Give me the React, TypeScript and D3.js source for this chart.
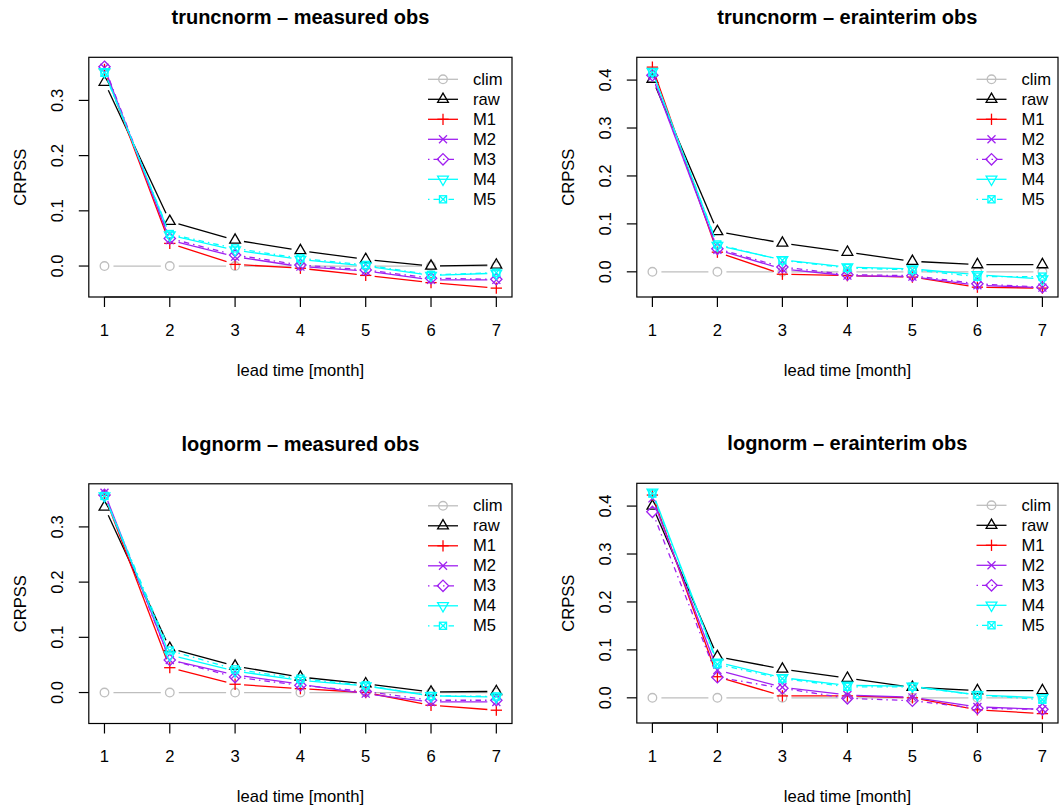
import React from "react";
import * as d3 from "d3";

// ---------- data ----------
const leadTimes = [1, 2, 3, 4, 5, 6, 7];
const xTickLabels = ["1", "2", "3", "4", "5", "6", "7"];
const climValues = [0, 0, 0, 0, 0, 0, 0];

// truncnorm – measured obs
const tmRaw = [0.333, 0.081, 0.047, 0.028, 0.012, 0.0, 0.002];
const tmM1 = [0.356, 0.041, 0.003, -0.004, -0.017, -0.03, -0.04];
const tmM2 = [0.359, 0.047, 0.017, -0.001, -0.009, -0.025, -0.025];
const tmM3 = [0.361, 0.05, 0.02, 0.002, -0.007, -0.022, -0.024];
const tmM4 = [0.352, 0.056, 0.029, 0.012, 0.0, -0.017, -0.013];
const tmM5 = [0.35, 0.058, 0.032, 0.014, 0.002, -0.016, -0.012];

// truncnorm – erainterim obs
const teRaw = [0.402, 0.084, 0.06, 0.041, 0.022, 0.015, 0.015];
const teM1 = [0.427, 0.041, -0.005, -0.008, -0.011, -0.032, -0.034];
const teM2 = [0.408, 0.046, 0.006, -0.008, -0.01, -0.028, -0.033];
const teM3 = [0.41, 0.048, 0.01, -0.006, -0.008, -0.025, -0.032];
const teM4 = [0.418, 0.055, 0.025, 0.01, 0.006, -0.006, -0.015];
const teM5 = [0.416, 0.057, 0.024, 0.008, 0.004, -0.01, -0.01];

// lognorm – measured obs
const lmRaw = [0.336, 0.08, 0.048, 0.028, 0.016, 0.001, 0.002];
const lmM1 = [0.357, 0.045, 0.015, 0.007, 0.0, -0.023, -0.032];
const lmM2 = [0.362, 0.059, 0.032, 0.015, -0.002, -0.017, -0.017];
const lmM3 = [0.358, 0.059, 0.028, 0.013, 0.002, -0.014, -0.014];
const lmM4 = [0.356, 0.068, 0.039, 0.022, 0.012, -0.006, -0.008];
const lmM5 = [0.356, 0.076, 0.042, 0.025, 0.013, -0.006, -0.007];

// lognorm – erainterim obs
const leRaw = [0.4, 0.086, 0.06, 0.041, 0.022, 0.015, 0.015];
const leM1 = [0.423, 0.044, 0.004, 0.004, 0.0, -0.025, -0.033];
const leM2 = [0.416, 0.058, 0.022, 0.006, 0.001, -0.019, -0.024];
const leM3 = [0.388, 0.043, 0.02, -0.001, -0.006, -0.022, -0.024];
const leM4 = [0.429, 0.074, 0.042, 0.026, 0.024, 0.006, 0.0];
const leM5 = [0.426, 0.07, 0.04, 0.023, 0.023, 0.006, -0.004];

const seriesNames = ["clim", "raw", "M1", "M2", "M3", "M4", "M5"];
const panelTitles = [
  "truncnorm \u2013 measured obs",
  "truncnorm \u2013 erainterim obs",
  "lognorm \u2013 measured obs",
  "lognorm \u2013 erainterim obs",
];
const measuredYTicks = [0, 0.1, 0.2, 0.3];
const eraYTicks = [0, 0.1, 0.2, 0.3, 0.4];

// ---------- styles / layout ----------
const FONT = "'Liberation Sans', Arial, Helvetica, sans-serif";
const styles: Record<string, { color: string; pch: number; dash: string | null }> = {
  clim: { color: "#BEBEBE", pch: 1, dash: null },
  raw: { color: "#000000", pch: 2, dash: null },
  M1: { color: "#FF0000", pch: 3, dash: null },
  M2: { color: "#A020F0", pch: 4, dash: null },
  M3: { color: "#A020F0", pch: 5, dash: "1.5,4,5.5,4" },
  M4: { color: "#00FFFF", pch: 6, dash: null },
  M5: { color: "#00FFFF", pch: 7, dash: "1.5,4,5.5,4" },
};
const LW = 1.3;
const RAD = 4;
const GAP = 9;

function Marker({ pch, x, y, color }: { pch: number; x: number; y: number; color: string }) {
  const p = { stroke: color, strokeWidth: LW, fill: "none" };
  const r = RAD;
  if (pch === 1) return <circle cx={x} cy={y} r={r + 0.3} {...p} />;
  if (pch === 2 || pch === 6) {
    const tr = 1.5551 * r;
    const hw = tr * Math.sqrt(3) / 2;
    const s = pch === 2 ? 1 : -1;
    const pts = `${x},${y - s * tr} ${x + hw},${y + s * tr / 2} ${x - hw},${y + s * tr / 2}`;
    return <polygon points={pts} {...p} />;
  }
  if (pch === 3) {
    const h = Math.SQRT2 * r;
    return (
      <g {...p}>
        <line x1={x - h} y1={y} x2={x + h} y2={y} />
        <line x1={x} y1={y - h} x2={x} y2={y + h} />
      </g>
    );
  }
  if (pch === 4) {
    return (
      <g {...p}>
        <line x1={x - r} y1={y - r} x2={x + r} y2={y + r} />
        <line x1={x - r} y1={y + r} x2={x + r} y2={y - r} />
      </g>
    );
  }
  if (pch === 5) {
    const h = Math.SQRT2 * r;
    return <polygon points={`${x},${y - h} ${x + h},${y} ${x},${y + h} ${x - h},${y}`} {...p} />;
  }
  if (pch === 7) {
    const h = 0.886 * r;
    return (
      <g {...p}>
        <rect x={x - h} y={y - h} width={2 * h} height={2 * h} />
        <line x1={x - h} y1={y - h} x2={x + h} y2={y + h} />
        <line x1={x - h} y1={y + h} x2={x + h} y2={y - h} />
      </g>
    );
  }
  return null;
}

const layout = [
  { x0: 88.8, x1: 512, y0: 57.3, y1: 297, legendX: 428 },
  { x0: 636.8, x1: 1058, y0: 57.3, y1: 297, legendX: 976.5 },
  { x0: 88.8, x1: 512, y0: 483.8, y1: 723.5, legendX: 428 },
  { x0: 636.8, x1: 1058, y0: 483.3, y1: 723, legendX: 976.5 },
];

const panelSeries = [
  [climValues, tmRaw, tmM1, tmM2, tmM3, tmM4, tmM5],
  [climValues, teRaw, teM1, teM2, teM3, teM4, teM5],
  [climValues, lmRaw, lmM1, lmM2, lmM3, lmM4, lmM5],
  [climValues, leRaw, leM1, leM2, leM3, leM4, leM5],
];
// ylim shared between panels with the same observation source
const ylimGroups = [[0, 2], [1, 3], [0, 2], [1, 3]];
const yTickSets = [measuredYTicks, eraYTicks, measuredYTicks, eraYTicks];

function Panel({ idx }: { idx: number }) {
  const L = layout[idx];
  const series = panelSeries[idx];
  const all = ylimGroups[idx].flatMap((g) => panelSeries[g].flat());
  const [mn, mx] = d3.extent(all) as [number, number];
  const pad = (mx - mn) * 0.04;
  const y = d3.scaleLinear().domain([mn - pad, mx + pad]).range([L.y1, L.y0]);
  const xpad = (7 - 1) * 0.04;
  const x = d3.scaleLinear().domain([1 - xpad, 7 + xpad]).range([L.x0, L.x1]);
  const cx = (L.x0 + L.x1) / 2;
  const cy = (L.y0 + L.y1) / 2;

  const segs = (vals: number[]) => {
    const out: { x1: number; y1: number; x2: number; y2: number }[] = [];
    for (let i = 0; i < vals.length - 1; i++) {
      const ax = x(leadTimes[i]), ay = y(vals[i]);
      const bx = x(leadTimes[i + 1]), by = y(vals[i + 1]);
      const d = Math.hypot(bx - ax, by - ay);
      if (d <= 2 * GAP) continue;
      const ux = (bx - ax) / d, uy = (by - ay) / d;
      out.push({ x1: ax + ux * GAP, y1: ay + uy * GAP, x2: bx - ux * GAP, y2: by - uy * GAP });
    }
    return out;
  };

  return (
    <g>
      <text x={cx} y={L.y0 - 40} textAnchor="middle" dominantBaseline="central"
        fontFamily={FONT} fontWeight="bold" fontSize={20}>{panelTitles[idx]}</text>
      {series.map((vals, si) => {
        const st = styles[seriesNames[si]];
        return (
          <g key={si}>
            {segs(vals).map((s, k) => (
              <line key={k} {...s} stroke={st.color} strokeWidth={LW}
                strokeDasharray={st.dash ?? undefined} />
            ))}
            {vals.map((v, k) => (
              <Marker key={k} pch={st.pch} x={x(leadTimes[k])} y={y(v)} color={st.color} />
            ))}
          </g>
        );
      })}
      <rect x={L.x0} y={L.y0} width={L.x1 - L.x0} height={L.y1 - L.y0} fill="none" stroke="#000" strokeWidth={1.2} />
      {/* x axis */}
      <line x1={x(1)} x2={x(7)} y1={L.y1} y2={L.y1} stroke="#000" strokeWidth={1.2} />
      {leadTimes.map((t, k) => (
        <g key={k}>
          <line x1={x(t)} x2={x(t)} y1={L.y1} y2={L.y1 + 10} stroke="#000" strokeWidth={1.2} />
          <text x={x(t)} y={L.y1 + 33} textAnchor="middle" dominantBaseline="central"
            fontFamily={FONT} fontSize={16.6}>{xTickLabels[k]}</text>
        </g>
      ))}
      <text x={cx} y={L.y1 + 73} textAnchor="middle" dominantBaseline="central"
        fontFamily={FONT} fontSize={16.6}>lead time [month]</text>
      {/* y axis */}
      {yTickSets[idx].map((t, k) => (
        <g key={k}>
          <line x1={L.x0 - 10} x2={L.x0} y1={y(t)} y2={y(t)} stroke="#000" strokeWidth={1.2} />
          <text transform={`translate(${L.x0 - 31},${y(t)}) rotate(-90)`} textAnchor="middle"
            dominantBaseline="central" fontFamily={FONT} fontSize={16.6}>{t.toFixed(1)}</text>
        </g>
      ))}
      <text transform={`translate(${L.x0 - 68},${cy}) rotate(-90)`} textAnchor="middle"
        dominantBaseline="central" fontFamily={FONT} fontSize={16.6}>CRPSS</text>
      {/* legend */}
      {seriesNames.map((name, k) => {
        const st = styles[name];
        const ly = L.y0 + 22 + k * 20;
        return (
          <g key={name}>
            <line x1={L.legendX} x2={L.legendX + 30} y1={ly} y2={ly} stroke={st.color}
              strokeWidth={LW} strokeDasharray={st.dash ?? undefined} />
            <Marker pch={st.pch} x={L.legendX + 15} y={ly} color={st.color} />
            <text x={L.legendX + 45} y={ly} dominantBaseline="central" fontFamily={FONT}
              fontSize={16.6}>{name}</text>
          </g>
        );
      })}
    </g>
  );
}

export default function App() {
  return (
    <svg width={1060} height={809} style={{ position: "absolute", left: 0, top: 0, background: "#fff" }}>
      <rect width={1060} height={809} fill="#fff" />
      {[0, 1, 2, 3].map((i) => (
        <Panel key={i} idx={i} />
      ))}
    </svg>
  );
}
